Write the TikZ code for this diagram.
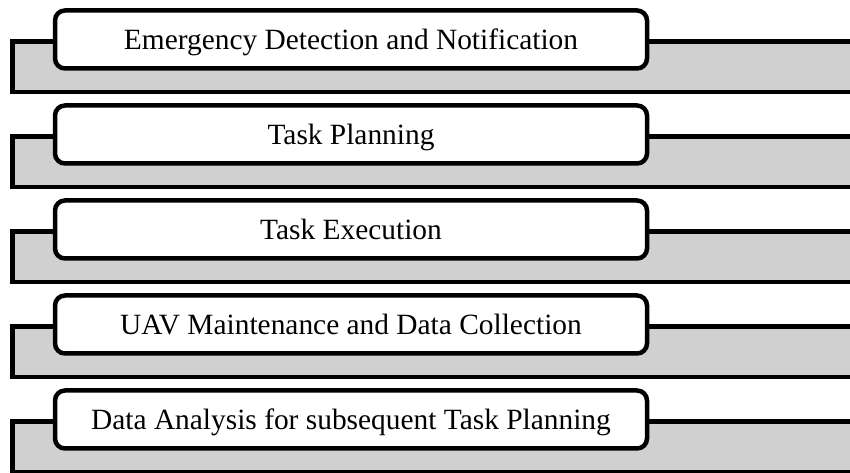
\documentclass[tikz,border=0pt]{standalone}
\usepackage{fontspec}
\setmainfont{Liberation Serif}
\usetikzlibrary{positioning,backgrounds}
\definecolor{bandgray}{RGB}{208,208,208}
\begin{document}
\begin{tikzpicture}[x=1pt, y=1pt, node distance=95pt, align=center]
	% Node styles
	\tikzstyle{stage} = [rectangle, draw, fill=white, line width=4.5pt, rounded corners=10pt, minimum width=592pt, minimum height=58pt, outer sep=0pt, font=\fontsize{29.4}{35}\selectfont, text height=19.5pt, text depth=0pt]
	\tikzstyle{band} = [draw, fill=bandgray, line width=4.5pt]
	\useasboundingbox (0,0) rectangle (850,473);
	
	% Nodes
	\node[stage] (detection) at (351,433.5) {Emergency Detection and Notification};
	\node[stage, below of=detection] (planning) {Task Planning};
	\node[stage, below of=planning] (execution) {Task Execution};
	\node[stage, below of=execution] (maintenance) {UAV Maintenance and Data Collection};
	\node[stage, below of=maintenance] (analysis) {Data Analysis for subsequent Task Planning};
	
	% Bands
	\begin{scope}[on background layer]
		\clip (0,0) rectangle (850,473);
		\foreach \s in {detection,planning,execution,maintenance,analysis}
			\draw[band] ([shift={(-42.5,-31)}]\s.north west) rectangle ++(900,-50.5);
	\end{scope}
\end{tikzpicture}
\end{document}
